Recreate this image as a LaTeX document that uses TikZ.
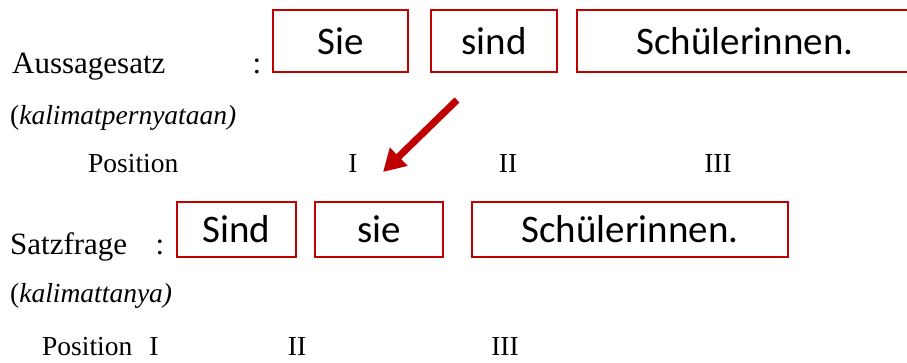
\documentclass[tikz,border=0pt]{standalone}
\usepackage{fontspec}
\setmainfont{Liberation Serif}
\newfontfamily\boxfont{Carlito}
\usetikzlibrary{arrows.meta}
\definecolor{boxred}{HTML}{C00000}
\tikzset{
  wordbox/.style={draw=boxred, line width=2.8pt, inner sep=0pt, font=\boxfont\fontsize{39}{46}\selectfont, text=black},
  biglabel/.style={anchor=base west, inner sep=0pt, font=\fontsize{31}{37}\selectfont},
  colon/.style={anchor=base, inner sep=0pt, font=\fontsize{31}{37}\selectfont},
  smalllabel/.style={anchor=base west, inner sep=0pt, font=\fontsize{27.5}{33}\selectfont},
  poslabel/.style={anchor=base, inner sep=0pt, font=\fontsize{27.5}{33}\selectfont},
  movearrow/.style={draw=boxred, line width=7pt, -{Triangle[length=22pt,width=24pt]}}
}
\begin{document}
\begin{tikzpicture}[x=1pt,y=-1pt]
\useasboundingbox (0,0) rectangle (907,362);
\clip (0,0) rectangle (907,362);
\fill[white] (0,0) rectangle (907,362);
% top row
\node[biglabel] (aus) at (12,73) {Aussagesatz};
\node[colon] (c1) at (257,73) {:};
\node[wordbox, minimum width=135pt, minimum height=62pt] (sie1) at (340.5,41) {Sie};
\node[wordbox, minimum width=126pt, minimum height=62pt] (sind1) at (494,41) {sind};
\node[wordbox, minimum width=336pt, minimum height=62pt] (sch1) at (745,41) {Schülerinnen.};
\node[smalllabel] (k1) at (10,124) {(\textit{kalimatpernyataan)}};
\node[smalllabel] (pos1) at (88,172) {Position};
\node[poslabel] (p1a) at (353,172) {I};
\node[poslabel] (p1b) at (508,172) {II};
\node[poslabel] (p1c) at (718,172) {III};
% arrow
\coordinate (arrA) at (457,100);
\coordinate (arrB) at (383,172);
\draw[movearrow] (arrA) -- (arrB);
% bottom row
\node[biglabel] (satz) at (10,254) {Satzfrage};
\node[colon] (c2) at (160,254) {:};
\node[wordbox, minimum width=119pt, minimum height=55pt] (sind2) at (236.5,229.5) {Sind};
\node[wordbox, minimum width=128pt, minimum height=55pt] (sie2) at (379,229.5) {sie};
\node[wordbox, minimum width=316pt, minimum height=55pt] (sch2) at (630,229.5) {Schülerinnen.};
\node[smalllabel] (k2) at (10,302) {(\textit{kalimattanya)}};
\node[smalllabel] (pos2) at (42,355) {Position};
\node[poslabel] (p2a) at (154,355) {I};
\node[poslabel] (p2b) at (297,355) {II};
\node[poslabel] (p2c) at (505,355) {III};
\end{tikzpicture}
\end{document}
